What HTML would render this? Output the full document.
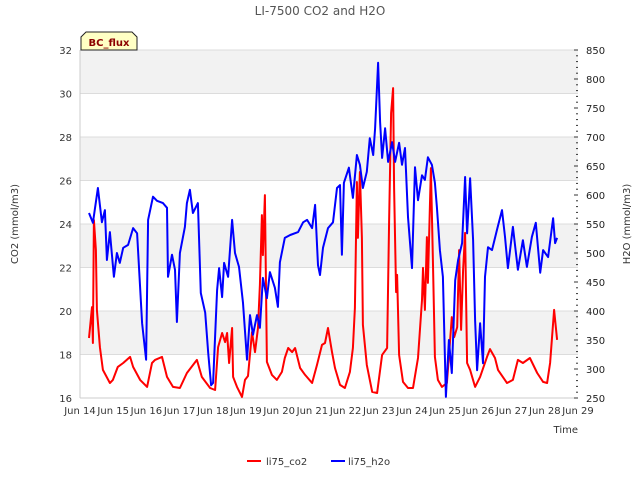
<!DOCTYPE html>
<html><head><meta charset="utf-8"><style>
html,body{margin:0;padding:0;background:#fff;}
svg{display:block;font-family:"DejaVu Sans","Liberation Sans",sans-serif;}
</style></head><body>
<svg id="chart" width="640" height="480" viewBox="0 0 640 480">
<text x="320" y="15" text-anchor="middle" font-size="12" fill="#555">LI-7500 CO2 and H2O</text>
<g id="bands"></g>
<g id="grid"></g>
<g id="xaxis"></g>
<g id="yleft"></g>
<g id="yright"></g>
<g id="series"></g>
<text transform="translate(18,224) rotate(-90)" text-anchor="middle" font-size="10" fill="#333">CO2 (mmol/m3)</text>
<text transform="translate(630,224) rotate(-90)" text-anchor="middle" font-size="10" fill="#333">H2O (mmol/m3)</text>
<text x="578" y="433" text-anchor="end" font-size="10" fill="#333">Time</text>
<g>
<path d="M81,50 L81,37 L86,32 L132,32 L137,37 L137,50 Z" fill="#ffffc4" stroke="#222" stroke-width="1"/>
<text x="109" y="46" text-anchor="middle" font-size="10" font-weight="bold" fill="#8b0000">BC_flux</text>
</g>
<g>
<g>
<line x1="247" y1="461" x2="261" y2="461" stroke="#f00" stroke-width="2"/>
<text x="266" y="465" font-size="10" fill="#333">li75_co2</text></g>
<g>
<line x1="331" y1="461" x2="345" y2="461" stroke="#00f" stroke-width="2"/>
<text x="348" y="465" font-size="10" fill="#333">li75_h2o</text></g>
</g>
</svg>
<script>
const xTickLabels=["Jun 14","Jun 15","Jun 16","Jun 17","Jun 18","Jun 19","Jun 20","Jun 21","Jun 22","Jun 23","Jun 24","Jun 25","Jun 26","Jun 27","Jun 28","Jun 29"];
const leftTicks=[16,18,20,22,24,26,28,30,32];
const rightTicks=[250,300,350,400,450,500,550,600,650,700,750,800,850];
const co2Days=[.27,.36,.39,.42,.48,.51,.60,.69,.90,.99,1.14,1.30,1.51,1.60,1.81,2.02,2.17,2.26,2.47,2.62,2.80,3.01,3.22,3.52,3.67,3.92,4.07,4.16,4.28,4.37,4.43,4.49,4.58,4.61,4.73,4.88,4.97,5.06,5.18,5.27,5.36,5.42,5.48,5.51,5.57,5.63,5.78,5.93,6.08,6.17,6.27,6.39,6.48,6.63,6.78,6.99,7.14,7.29,7.38,7.47,7.59,7.68,7.83,7.98,8.13,8.22,8.28,8.34,8.37,8.43,8.49,8.52,8.64,8.80,8.95,9.10,9.25,9.31,9.37,9.43,9.46,9.52,9.55,9.61,9.73,9.88,10.03,10.18,10.30,10.33,10.39,10.45,10.48,10.57,10.63,10.69,10.78,10.90,11.05,11.11,11.20,11.27,11.36,11.42,11.48,11.54,11.60,11.66,11.75,11.90,12.05,12.26,12.35,12.50,12.59,12.86,13.04,13.19,13.34,13.55,13.77,13.95,14.07,14.16,14.28,14.37];
const co2Values=[18.76,20.18,18.53,24.18,22.80,20.05,18.34,17.29,16.69,16.83,17.43,17.61,17.89,17.43,16.83,16.51,17.61,17.75,17.89,16.97,16.51,16.46,17.15,17.75,16.97,16.46,16.37,18.34,18.99,18.57,18.99,17.61,19.22,16.97,16.51,16.05,16.83,17.01,19.03,18.11,19.22,21.20,24.41,22.57,25.33,17.66,17.06,16.83,17.20,17.84,18.30,18.11,18.30,17.38,17.06,16.69,17.52,18.44,18.53,19.22,18.11,17.38,16.60,16.46,17.20,18.30,20.14,25.93,23.36,26.39,23.36,19.36,17.52,16.28,16.23,17.98,18.30,24.09,29.10,30.25,25.66,20.87,21.66,17.98,16.74,16.46,16.46,17.84,20.51,21.98,20.05,23.40,21.29,26.57,22.34,17.89,16.83,16.51,16.69,17.89,19.72,18.80,19.26,22.80,19.13,21.89,23.59,17.61,17.29,16.51,16.97,17.89,18.25,17.84,17.29,16.69,16.83,17.75,17.61,17.84,17.15,16.74,16.69,17.61,20.05,18.67];
const h2oDays=[.27,.39,.54,.66,.75,.81,.90,1.02,1.11,1.20,1.30,1.45,1.60,1.72,1.87,1.99,2.05,2.20,2.32,2.50,2.62,2.65,2.77,2.86,2.92,3.01,3.16,3.22,3.31,3.40,3.55,3.64,3.77,3.86,3.95,4.01,4.13,4.19,4.28,4.34,4.46,4.58,4.67,4.79,4.91,5.03,5.12,5.21,5.33,5.42,5.51,5.63,5.72,5.87,5.96,6.02,6.17,6.33,6.57,6.72,6.84,6.99,7.08,7.17,7.23,7.32,7.47,7.62,7.74,7.83,7.89,7.95,8.10,8.22,8.34,8.43,8.52,8.64,8.73,8.83,8.89,8.98,9.04,9.10,9.19,9.28,9.40,9.49,9.61,9.70,9.79,9.88,10.0,10.09,10.18,10.30,10.39,10.48,10.60,10.69,10.75,10.84,10.93,11.02,11.11,11.20,11.30,11.39,11.51,11.60,11.66,11.75,11.84,11.90,11.96,12.05,12.14,12.20,12.29,12.41,12.56,12.71,12.80,12.89,13.04,13.19,13.34,13.46,13.61,13.73,13.86,13.95,14.10,14.25,14.31,14.37];
const h2oValues=[569,552,612,553,574,488,536,459,500,483,509,514,543,534,379,316,557,597,590,586,578,459,497,471,381,500,545,586,609,569,586,431,397,328,272,276,436,474,424,483,459,557,500,476,414,316,393,359,393,371,457,422,467,440,407,484,526,531,536,553,557,543,583,479,462,509,543,553,612,617,497,621,647,595,669,652,612,640,698,669,715,828,726,664,715,657,691,657,690,652,681,562,474,648,591,634,626,665,652,621,579,505,459,252,350,293,453,488,517,631,534,629,522,384,298,379,310,459,510,505,540,574,528,474,545,471,522,476,528,552,466,505,493,560,517,526];

const NS="http://www.w3.org/2000/svg";
const L=80,R=578,T=50,B=398;
const xS=d=>L+(R-L)*d/15;
const yL=v=>B-(B-T)*(v-16)/16;
const yR=v=>B-(B-T)*(v-250)/600;
function mk(tag,attrs,parent){const e=document.createElementNS(NS,tag);for(const k in attrs)e.setAttribute(k,attrs[k]);parent.appendChild(e);return e;}
const bands=document.getElementById('bands'),grid=document.getElementById('grid');
for(let i=0;i<leftTicks.length-1;i++){
  if(i%2===1){const r=mk('rect',{x:L,y:yL(leftTicks[i+1]),width:R-L,height:yL(leftTicks[i])-yL(leftTicks[i+1]),fill:'#f2f2f2'},bands);
  
  }
}
const yl=document.getElementById('yleft');
leftTicks.forEach(v=>{const y=yL(v);
  const g=mk('line',{x1:L,x2:R,y1:y,y2:y,stroke:'#dcdcdc','stroke-width':1},grid);
  
  
  const t=mk('text',{x:L-8,y:y+4,'text-anchor':'end','font-size':10,fill:'#333'},yl);t.textContent=v;
  
  
});
mk('line',{x1:L,x2:L,y1:T,y2:B,stroke:'#ccc'},yl);
mk('line',{x1:L,x2:R,y1:B,y2:B,stroke:'#ccc'},yl);
const yr=document.getElementById('yright');
for(let v=250;v<=850;v+=10){const y=yR(v);mk('line',{x1:R-(v%50===0?4:2),x2:R,y1:y,y2:y,stroke:'#333'},yr);}
rightTicks.forEach(v=>{const t=mk('text',{x:R+8,y:yR(v)+4,'font-size':10,fill:'#222'},yr);t.textContent=v;
  
  });
const xa=document.getElementById('xaxis');
xTickLabels.forEach((s,i)=>{const t=mk('text',{x:xS(i),y:414,'text-anchor':'middle','font-size':10,fill:'#333'},xa);t.textContent=s;
  
  });
const ser=document.getElementById('series');
const p1=mk('polyline',{points:co2Days.map((d,i)=>xS(d).toFixed(1)+','+yL(co2Values[i]).toFixed(1)).join(' '),fill:'none',stroke:'#f00','stroke-width':2,'stroke-linejoin':'round'},ser);


const p2=mk('polyline',{points:h2oDays.map((d,i)=>xS(d).toFixed(1)+','+yR(h2oValues[i]).toFixed(1)).join(' '),fill:'none',stroke:'#00f','stroke-width':2,'stroke-linejoin':'round'},ser);


</script>
</body></html>
